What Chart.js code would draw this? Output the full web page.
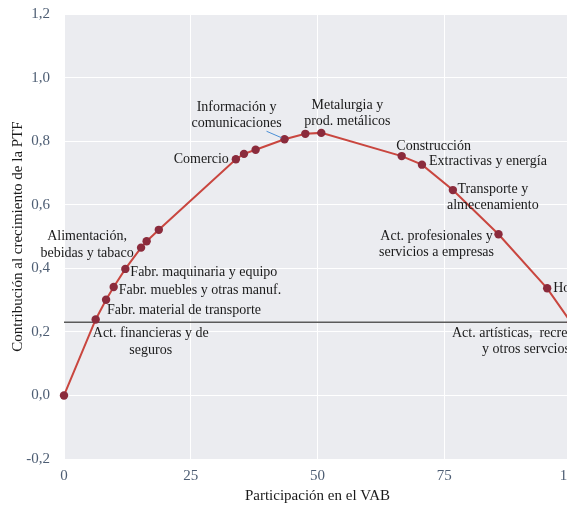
<!DOCTYPE html>
<html>
<head>
<meta charset="utf-8">
<script src="https://cdn.jsdelivr.net/npm/chart.js@4.4.1/dist/chart.umd.min.js"></script>
<style>
  html, body { margin: 0; padding: 0; background: #fff; overflow: hidden; width: 567px; height: 512px; }
  #wrap { position: absolute; left: 0; top: 0; width: 600px; height: 512px; }
</style>
</head>
<body>
<div id="wrap"><canvas id="chart"></canvas></div>
<script>
// Cumulative share of GVA (x) vs cumulative contribution to TFP growth (y)
const shareVAB   = [0, 6.25, 8.3, 9.8, 12.1, 15.2, 16.3, 18.7, 33.9, 35.5, 37.8, 43.5, 47.6, 50.75, 66.6, 70.6, 76.7, 85.7, 95.3, 100];
const contribPTF = [0, 0.239, 0.301, 0.341, 0.398, 0.465, 0.485, 0.521, 0.743, 0.760, 0.773, 0.806, 0.823, 0.826, 0.753, 0.726, 0.646, 0.507, 0.337, 0.23];
const sectorNames = [
  null,
  ["Act. financieras y de", "seguros"],
  ["Fabr. material de transporte"],
  ["Fabr. muebles y otras manuf."],
  ["Fabr. maquinaria y equipo"],
  ["Alimentación,", "bebidas y tabaco"],
  null,
  null,
  ["Comercio"],
  null,
  null,
  ["Información y", "comunicaciones"],
  null,
  ["Metalurgia y", "prod. metálicos"],
  ["Construcción"],
  ["Extractivas y energía"],
  ["Transporte y", "almecenamiento"],
  ["Act. profesionales y", "servicios a empresas"],
  ["Hostelería"],
  ["Act. artísticas,  recreativas", "y otros servcios"]
];
const totalPTF = 0.23;
const xTicks = [0, 25, 50, 75, 100];
const yTicks = [-0.2, 0, 0.2, 0.4, 0.6, 0.8, 1.0, 1.2];

// where each label sits relative to its point (pixels)
const labelPlace = {
  1:  { dx: 55,  dy: 14,  align: "center" },
  2:  { dx: 1,   dy: 11,  align: "left" },
  3:  { dx: 5,   dy: 3,   align: "left" },
  4:  { dx: 5,   dy: 3,   align: "left" },
  5:  { dx: -54, dy: -11, align: "center" },
  8:  { dx: -7,  dy: 0,   align: "right" },
  11: { dx: -48, dy: -32, align: "center", leader: true },
  13: { dx: 26,  dy: -28, align: "center" },
  14: { dx: 32,  dy: -10, align: "center" },
  15: { dx: 7,   dy: -3,  align: "left" },
  16: { dx: 40,  dy: -1,  align: "center" },
  17: { dx: -62, dy: 2,   align: "center" },
  18: { dx: 6,   dy: 0,   align: "left" },
  19: { dx: -45, dy: 11,  align: "center" }
};

const SERIF = "'Liberation Serif', 'Times New Roman', serif";
const fmtComma = (v) => v.toFixed(1).replace(".", ",");

const plotBg = {
  id: "plotBg",
  beforeDraw(chart) {
    const { ctx, chartArea: a } = chart;
    ctx.save();
    ctx.fillStyle = "#ebecf0";
    ctx.fillRect(a.left, a.top, a.right - a.left, a.bottom - a.top);
    ctx.restore();
  }
};

const sectorLabels = {
  id: "sectorLabels",
  afterDatasetsDraw(chart) {
    const { ctx } = chart;
    const xs = chart.scales.x, ys = chart.scales.y;
    ctx.save();
    ctx.font = "14px " + SERIF;
    ctx.fillStyle = "#1a1a1a";
    ctx.textBaseline = "middle";
    Object.keys(labelPlace).forEach(k => {
      const i = +k;
      const lines = sectorNames[i];
      if (!lines) return;
      const p = labelPlace[i];
      const px = xs.getPixelForValue(shareVAB[i]);
      const py = ys.getPixelForValue(contribPTF[i]);
      const tx = px + p.dx, ty = py + p.dy;
      ctx.textAlign = p.align;
      lines.forEach((t, j) => ctx.fillText(t, tx, ty + j * 16.5));
      if (p.leader) {
        ctx.strokeStyle = "#4a8fd6";
        ctx.lineWidth = 1;
        ctx.beginPath();
        ctx.moveTo(px - 18, py - 8);
        ctx.lineTo(px - 3, py - 1.5);
        ctx.stroke();
      }
    });
    ctx.restore();
  }
};

new Chart(document.getElementById("chart"), {
  type: "scatter",
  data: {
    datasets: [
      {
        data: [{ x: 0, y: totalPTF }, { x: 100, y: totalPTF }],
        showLine: true,
        borderColor: "#5a5a5a",
        borderWidth: 1.5,
        pointRadius: 0,
        order: 2
      },
      {
        data: shareVAB.map((x, i) => ({ x, y: contribPTF[i] })),
        showLine: true,
        borderColor: "#c9463f",
        borderWidth: 2,
        tension: 0,
        pointRadius: 4.2,
        pointBackgroundColor: "#8b2b3c",
        pointBorderWidth: 0,
        clip: false,
        order: 1
      }
    ]
  },
  options: {
    responsive: true,
    maintainAspectRatio: false,
    animation: false,
    layout: { padding: { top: 0, right: 29, left: 0, bottom: 0 } },
    plugins: { legend: { display: false }, tooltip: { enabled: false } },
    scales: {
      x: {
        type: "linear",
        min: 0, max: 100,
        afterBuildTicks: (s) => { s.ticks = xTicks.map(v => ({ value: v })); },
        afterFit: (s) => { s.height = 53; },
        border: { display: false },
        grid: { color: "#ffffff", lineWidth: 1, drawTicks: false },
        ticks: { font: { family: SERIF, size: 15 }, color: "#4d5d73", padding: 8 },
        title: { display: true, text: "Participación en el VAB", font: { family: SERIF, size: 15 }, color: "#1a1a1a", padding: { top: 0, bottom: 7 } }
      },
      y: {
        min: -0.2, max: 1.2,
        afterBuildTicks: (s) => { s.ticks = yTicks.map(v => ({ value: v })); },
        afterFit: (s) => { s.width = 64; },
        border: { display: false },
        grid: { color: "#ffffff", lineWidth: 1, drawTicks: true, tickLength: 9, tickColor: "rgba(0,0,0,0)" },
        ticks: { font: { family: SERIF, size: 15 }, color: "#4d5d73", padding: 5, callback: (v) => fmtComma(v) },
        title: { display: true, text: "Contribución al crecimiento de la PTF", font: { family: SERIF, size: 15 }, color: "#1a1a1a", padding: { top: 9, bottom: 0 } }
      }
    }
  },
  plugins: [plotBg, sectorLabels]
});
</script>
</body>
</html>
